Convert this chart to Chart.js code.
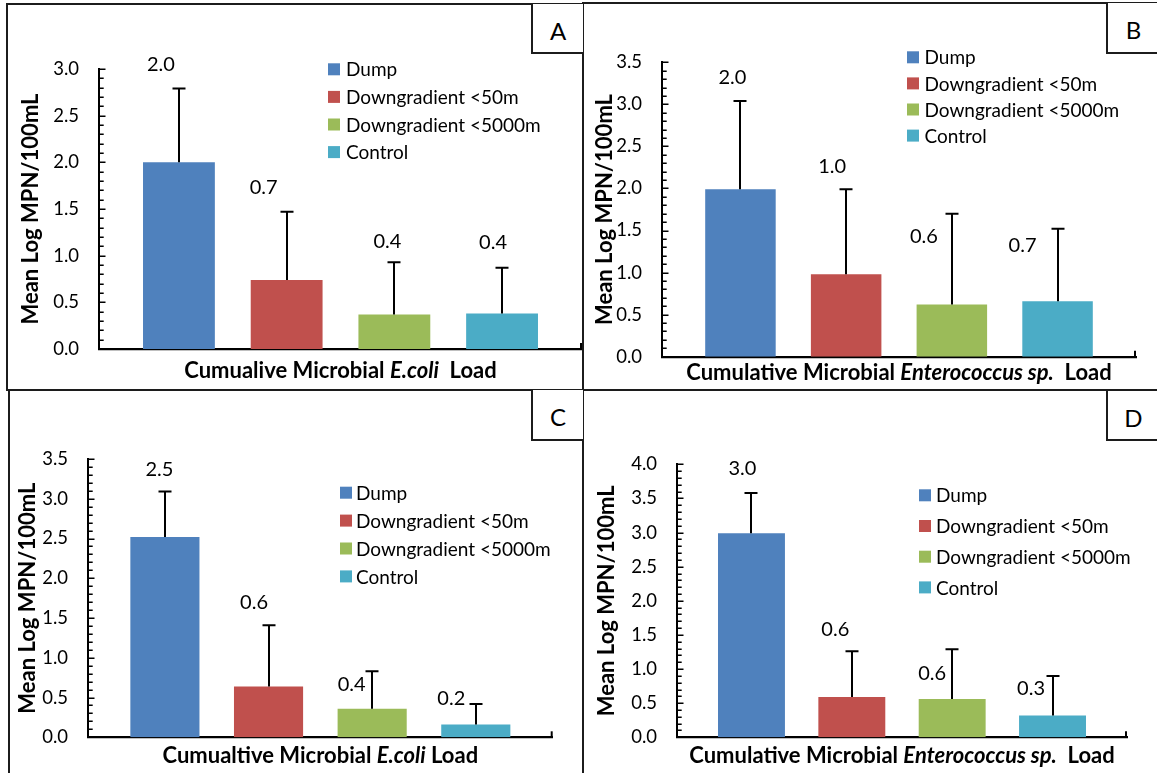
<!DOCTYPE html>
<html>
<head>
<meta charset="utf-8">
<script src="https://cdn.jsdelivr.net/npm/chart.js@4.4.1/dist/chart.umd.min.js"></script>
<style>
  html, body { margin: 0; padding: 0; background: #fff; }
  #page { position: relative; width: 1157px; height: 773px; overflow: hidden; font-family: Lato, sans-serif; }
  #page canvas { position: absolute; }
  .rule { position: absolute; background: #1c1c1c; z-index: 2; }
  .tag { position: absolute; box-sizing: border-box; border-left: 2px solid #1c1c1c; border-bottom: 2px solid #1c1c1c;
         font: 24px Lato, sans-serif; color: #000; display: flex; align-items: center; justify-content: center; z-index: 2; background: #fff; }
</style>
</head>
<body>
<div id="page">
  <canvas id="chartA" width="575" height="386" style="left:7px;top:4px"></canvas>
  <canvas id="chartB" width="575" height="388" style="left:582px;top:3px"></canvas>
  <canvas id="chartC" width="573" height="383" style="left:9px;top:390px"></canvas>
  <canvas id="chartD" width="575" height="382" style="left:582px;top:391px"></canvas>

  <!-- panel frames -->
  <div class="rule" style="left:6px;top:3px;width:577px;height:2px"></div>
  <div class="rule" style="left:582px;top:2px;width:575px;height:2px"></div>
  <div class="rule" style="left:6px;top:3px;width:2px;height:388px"></div>
  <div class="rule" style="left:8px;top:389px;width:2px;height:384px"></div>
  <div class="rule" style="left:582px;top:2px;width:2px;height:771px"></div>
  <div class="rule" style="left:6px;top:389px;width:1151px;height:2px"></div>

  <div class="tag" style="left:531px;top:4px;width:52px;height:50px;padding-top:4px">A</div>
  <div class="tag" style="left:1106px;top:3px;width:60px;height:51px;padding-top:4px;padding-right:7px">B</div>
  <div class="tag" style="left:531px;top:390px;width:52px;height:51px;padding-top:4px">C</div>
  <div class="tag" style="left:1106px;top:391px;width:60px;height:50px;padding-top:4px;padding-right:7px">D</div>
</div>

<script>
// ---- series shared by all four panels ----
const seriesNames  = ['Dump', 'Downgradient <50m', 'Downgradient <5000m', 'Control'];
const seriesColors = ['#4F81BD', '#C0504D', '#9BBB59', '#4BACC6'];

// ---- A: E. coli, first survey (mean log MPN/100 mL and upper error) ----
const ecoliMeansA = [2.00, 0.74, 0.37, 0.38];
const ecoliErrA   = [0.79, 0.73, 0.56, 0.49];
// ---- B: Enterococcus sp., first survey ----
const enteroMeansB = [1.99, 0.98, 0.62, 0.66];
const enteroErrB   = [1.05, 1.01, 1.08, 0.86];
// ---- C: E. coli, second survey ----
const ecoliMeansC = [2.52, 0.64, 0.36, 0.16];
const ecoliErrC   = [0.57, 0.77, 0.47, 0.26];
// ---- D: Enterococcus sp., second survey ----
const enteroMeansD = [2.99, 0.59, 0.56, 0.32];
const enteroErrD   = [0.59, 0.67, 0.73, 0.58];

// y-axis ranges (tick labels every 0.5)
const yAxisMax  = { A: 3.0, B: 3.5, C: 3.5, D: 4.0 };
const yAxisStep = 0.5;
const yAxisTitle = 'Mean Log MPN/100mL';

// x-axis titles: [text, italic]
const xTitleA = [['Cumualive Microbial ', false], ['E.coli', true], ['  Load', false]];
const xTitleB = [['Cumulative Microbial ', false], ['Enterococcus sp.', true], ['  Load', false]];
const xTitleC = [['Cumualtive Microbial ', false], ['E.coli', true], [' Load', false]];
const xTitleD = [['Cumulative Microbial ', false], ['Enterococcus sp.', true], ['  Load', false]];

const FONT = 'Lato';
const TICK = 18.5;   // axis tick labels
const LABEL = 20;    // value labels
const LEGEND = 19;   // legend entries
const BOLD = 22;     // axis titles

Chart.defaults.font.family = FONT;
Chart.defaults.font.size = TICK;
Chart.defaults.color = '#000';

// Upper error bars with caps
const errorBars = {
  id: 'errorBars',
  afterDatasetsDraw(chart, args, opts) {
    const { ctx } = chart;
    const y = chart.scales.y;
    ctx.save();
    ctx.strokeStyle = '#000';
    ctx.lineWidth = 2;
    chart.data.datasets.forEach((ds, i) => {
      const bar = chart.getDatasetMeta(i).data[0];
      const top = y.getPixelForValue(ds.data[0] + opts.errs[i]);
      const x = Math.round(bar.x);
      ctx.beginPath();
      ctx.moveTo(x, bar.y);
      ctx.lineTo(x, top);
      ctx.moveTo(x - 6.5, top);
      ctx.lineTo(x + 6.5, top);
      ctx.stroke();
    });
    ctx.restore();
  }
};

// Mean value printed near the top of each error bar
const valueLabels = {
  id: 'valueLabels',
  afterDatasetsDraw(chart, args, opts) {
    const { ctx } = chart;
    const y = chart.scales.y;
    ctx.save();
    ctx.font = LABEL + 'px ' + FONT;
    ctx.fillStyle = '#000';
    ctx.textAlign = 'center';
    ctx.textBaseline = 'middle';
    chart.data.datasets.forEach((ds, i) => {
      const bar = chart.getDatasetMeta(i).data[0];
      const top = y.getPixelForValue(ds.data[0] + opts.errs[i]);
      const [dx, dy] = opts.nudges[i];
      ctx.fillText(ds.data[0].toFixed(1), bar.x + dx, top + dy);
    });
    ctx.restore();
  }
};

// Inward tick marks: major at each labelled step, minor every 0.1; end tick on the x axis
const axisTicks = {
  id: 'axisTicks',
  afterDraw(chart) {
    const { ctx, chartArea } = chart;
    const y = chart.scales.y;
    ctx.save();
    ctx.strokeStyle = '#000';
    ctx.lineWidth = 1.5;
    ctx.beginPath();
    const n = Math.round(y.max * 10);
    for (let k = 0; k <= n; k++) {
      const py = Math.round(y.getPixelForValue(k / 10)) + 0.25;
      const len = (k % 5 === 0) ? 6.5 : 4.7;
      ctx.moveTo(chartArea.left, py);
      ctx.lineTo(chartArea.left + len, py);
    }
    ctx.stroke();
    ctx.lineWidth = 2;
    ctx.beginPath();
    ctx.moveTo(chartArea.right - 1, chartArea.bottom);
    ctx.lineTo(chartArea.right - 1, chartArea.bottom - 6);
    ctx.stroke();
    ctx.restore();
  }
};

// Legend placed inside the plot, swatch + label
const panelLegend = {
  id: 'panelLegend',
  afterDraw(chart, args, opts) {
    const { ctx } = chart;
    ctx.save();
    ctx.font = LEGEND + 'px ' + FONT;
    ctx.textAlign = 'left';
    ctx.textBaseline = 'middle';
    chart.data.datasets.forEach((ds, i) => {
      const cy = opts.y + i * opts.step;
      ctx.fillStyle = ds.backgroundColor;
      ctx.fillRect(opts.x, cy - 6, 12, 12);
      ctx.fillStyle = '#000';
      ctx.fillText(ds.label, opts.textX, cy + 1);
    });
    ctx.restore();
  }
};

// Bold x-axis title with an italic organism name
const xTitle = {
  id: 'xTitle',
  afterDraw(chart, args, opts) {
    const { ctx, chartArea } = chart;
    ctx.save();
    ctx.fillStyle = '#000';
    ctx.textBaseline = 'middle';
    ctx.textAlign = 'left';
    const fontOf = it => (it ? 'italic ' : '') + 'bold ' + BOLD + 'px ' + FONT;
    let total = 0;
    opts.parts.forEach(([t, it]) => { ctx.font = fontOf(it); total += ctx.measureText(t).width; });
    let x = (chartArea.left + chartArea.right) / 2 - total / 2;
    opts.parts.forEach(([t, it]) => {
      ctx.font = fontOf(it);
      ctx.fillText(t, x, opts.y);
      x += ctx.measureText(t).width;
    });
    ctx.restore();
  }
};

function makePanel(cfg) {
  const datasets = seriesNames.map((name, i) => ({
    label: name,
    data: [cfg.means[i]],
    backgroundColor: seriesColors[i],
    borderWidth: 0,
    barPercentage: 0.667,
    categoryPercentage: 0.892
  }));
  const titleSize = BOLD;
  new Chart(document.getElementById(cfg.id), {
    type: 'bar',
    data: { labels: [''], datasets },
    plugins: [errorBars, valueLabels, axisTicks, panelLegend, xTitle],
    options: {
      responsive: false,
      animation: false,
      devicePixelRatio: 1,
      layout: { padding: { left: 0, top: cfg.area.top, right: cfg.area.right, bottom: 0 } },
      scales: {
        x: {
          type: 'category',
          grid: { display: false, drawTicks: false },
          border: { display: true, color: '#000', width: 2.2 },
          ticks: { display: false },
          afterFit: s => { s.height = cfg.area.bottom; }
        },
        y: {
          min: 0,
          max: cfg.yMax,
          grid: { display: false, drawTicks: false },
          border: { display: true, color: '#000', width: 2 },
          ticks: {
            stepSize: yAxisStep,
            padding: 20,
            color: '#000',
            font: { size: TICK, family: FONT },
            callback: v => Number(v).toFixed(1)
          },
          title: {
            display: true,
            text: yAxisTitle,
            color: '#000',
            font: { size: titleSize, weight: 'bold', family: FONT, lineHeight: 1.2 },
            padding: { top: cfg.yTitleCenter - titleSize * 0.6, bottom: 0 }
          },
          afterFit: s => { s.width = cfg.area.left; }
        }
      },
      plugins: {
        legend: { display: false },
        tooltip: { enabled: false },
        errorBars: { errs: cfg.errs },
        valueLabels: { errs: cfg.errs, nudges: cfg.nudges },
        panelLegend: cfg.legend,
        xTitle: { parts: cfg.xParts, y: cfg.xTitleY }
      }
    }
  });
}

makePanel({
  id: 'chartA', means: ecoliMeansA, errs: ecoliErrA, yMax: yAxisMax.A, xParts: xTitleA,
  area: { left: 92, top: 65, right: 0, bottom: 41 }, yTitleCenter: 24, xTitleY: 367,
  legend: { x: 321, y: 65.3, step: 27.6, textX: 339 },
  nudges: [[-18, -24], [-23, -24], [-7, -21], [-9, -25]]
});
makePanel({
  id: 'chartB', means: enteroMeansB, errs: enteroErrB, yMax: yAxisMax.B, xParts: xTitleB,
  area: { left: 80, top: 59.3, right: 21, bottom: 34.3 }, yTitleCenter: 23, xTitleY: 370,
  legend: { x: 325, y: 54.3, step: 26.1, textX: 342.5 },
  nudges: [[-8, -23], [-14, -23], [-28, 23], [-35, 17]]
});
makePanel({
  id: 'chartC', means: ecoliMeansC, errs: ecoliErrC, yMax: yAxisMax.C, xParts: xTitleC,
  area: { left: 79, top: 69, right: 29.3, bottom: 35.7 }, yTitleCenter: 19, xTitleY: 366,
  legend: { x: 331, y: 102.7, step: 27.9, textX: 347 },
  nudges: [[-5.5, -22], [-14.5, -23], [-20.5, 13], [-24.5, -5]]
});
makePanel({
  id: 'chartD', means: enteroMeansD, errs: enteroErrD, yMax: yAxisMax.D, xParts: xTitleD,
  area: { left: 95, top: 73.3, right: 30, bottom: 35.7 }, yTitleCenter: 25, xTitleY: 365,
  legend: { x: 337, y: 104.3, step: 30.7, textX: 354 },
  nudges: [[-9, -24], [-16.5, -22], [-20, 24], [-21.5, 13]]
});
</script>
</body>
</html>
